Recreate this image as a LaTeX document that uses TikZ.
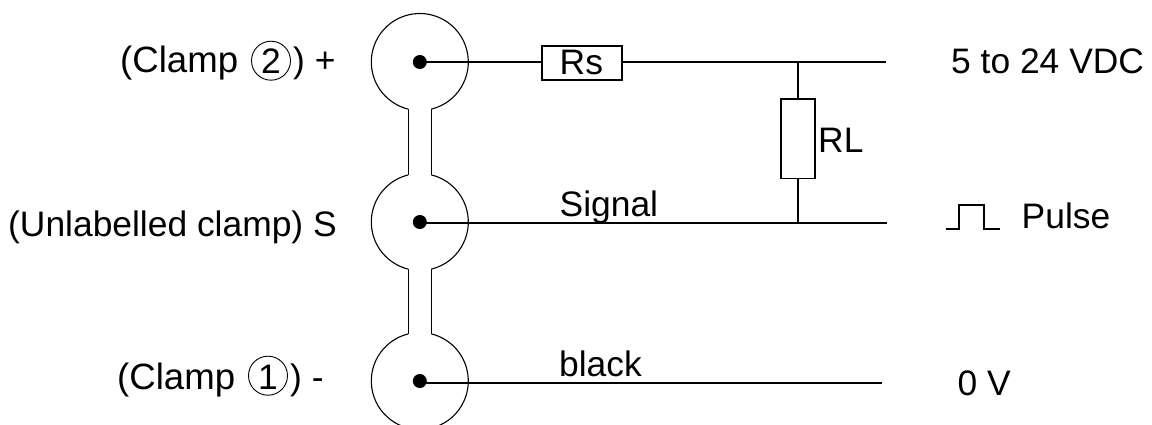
\documentclass[tikz,border=0pt]{standalone}
\usepackage{fontspec}
\usetikzlibrary{calc}
\setmainfont{Liberation Sans}
\newcommand{\lbl}{\fontsize{35.4}{38}\selectfont}
\newcommand{\lblb}{\fontsize{36.6}{38}\selectfont}
\tikzset{
  x=1pt,y=1pt,
  wire/.style={line width=1.8pt,black},
  outline/.style={line width=1.1pt,black},
  labeltext/.style={font=\lbl,inner sep=0pt,anchor=base west},
  termdot/.style={circle,fill=black,minimum size=14pt,inner sep=0pt},
  resistor/.style={draw,line width=1.6pt,fill=white,inner sep=0pt},
  digitring/.style={circle,draw,line width=0.9pt,minimum size=39pt,inner sep=0pt},
  digit/.style={font=\lbl,inner sep=0pt,anchor=base}
}
\begin{document}
\begin{tikzpicture}
\useasboundingbox (0,-425) rectangle (1152,0);
\coordinate (c1) at (419.8,-62);
\coordinate (c2) at (419.8,-222);
\coordinate (c3) at (419.8,-381);
\begin{scope}
\clip (0,-425) rectangle (1152,0);
\draw[outline] (c1) ++(-76:48.5) arc[start angle=-76,delta angle=332,radius=48.5];
\draw[outline] (c2) ++(-76:48.5) arc[start angle=-76,delta angle=152,radius=48.5];
\draw[outline] (c2) ++(104:48.5) arc[start angle=104,delta angle=152,radius=48.5];
\draw[outline] (c3) ++(104:48.5) arc[start angle=104,delta angle=332,radius=48.5];
\draw[outline] ($(c1)+(256:48.5)$) -- ($(c2)+(104:48.5)$);
\draw[outline] ($(c1)+(-76:48.5)$) -- ($(c2)+(76:48.5)$);
\draw[outline] ($(c2)+(256:48.5)$) -- ($(c3)+(104:48.5)$);
\draw[outline] ($(c2)+(-76:48.5)$) -- ($(c3)+(76:48.5)$);
\end{scope}
\node[termdot] (t1) at (c1) {};
\node[termdot] (t2) at (c2) {};
\node[termdot] (t3) at (c3) {};
\node[resistor,minimum width=80pt,minimum height=34pt] (rs) at (581.7,-62.8) {};
\node[resistor,minimum width=34pt,minimum height=79.5pt] (rl) at (798.2,-138.7) {};
\coordinate (e1) at (885.7,-62.3);
\coordinate (e2) at (887,-223.3);
\coordinate (e3) at (882,-382.7);
\coordinate (j1) at (798.2,-62.3);
\coordinate (j2) at (798.2,-223.3);
\draw[wire] (t1.center) -- (t1.center -| rs.west);
\draw[wire] (rs.east |- e1) -- (e1);
\draw[wire] (t2.center |- e2) -- (e2);
\draw[wire] (t3.center |- e3) -- (e3);
\draw[wire] (j1) -- (rl.north);
\draw[wire] (rl.south) -- (j2);
\coordinate (p0) at (946,-229);
\coordinate (p1) at (959,-229);
\coordinate (p2) at (959,-205);
\coordinate (p3) at (984,-205);
\coordinate (p4) at (984,-229);
\coordinate (p5) at (1000,-229);
\draw[wire] (p0) -- (p1) -- (p2) -- (p3) -- (p4) -- (p5);
\node[labeltext,font=\lblb] (l1a) at (120,-73) {(Clamp};
\node[digitring] (r2) at (271,-60.7) {};
\node[digit] (d2) at (271,-74) {2};
\node[labeltext] (l1b) at (293,-73) {) +};
\node[labeltext] (l2) at (8,-236.7) {(Unlabelled clamp) S};
\node[labeltext,font=\lblb] (l3a) at (117,-389) {(Clamp};
\node[digitring] (r1) at (268,-375.7) {};
\node[digit] (d1) at (268,-389) {1};
\node[labeltext] (l3b) at (290,-389) {) -};
\node[labeltext] (v1) at (951,-74) {5 to 24 VDC};
\node[labeltext] (v2) at (1021.5,-228) {Pulse};
\node[labeltext] (v3) at (957.5,-395) {0 V};
\node[labeltext] (sig) at (559.5,-216) {Signal};
\node[labeltext] (blk) at (559,-376) {black};
\node[labeltext] (rlt) at (818,-153) {RL};
\node[labeltext] (rst) at (559.5,-74.3) {Rs};
\end{tikzpicture}
\end{document}
